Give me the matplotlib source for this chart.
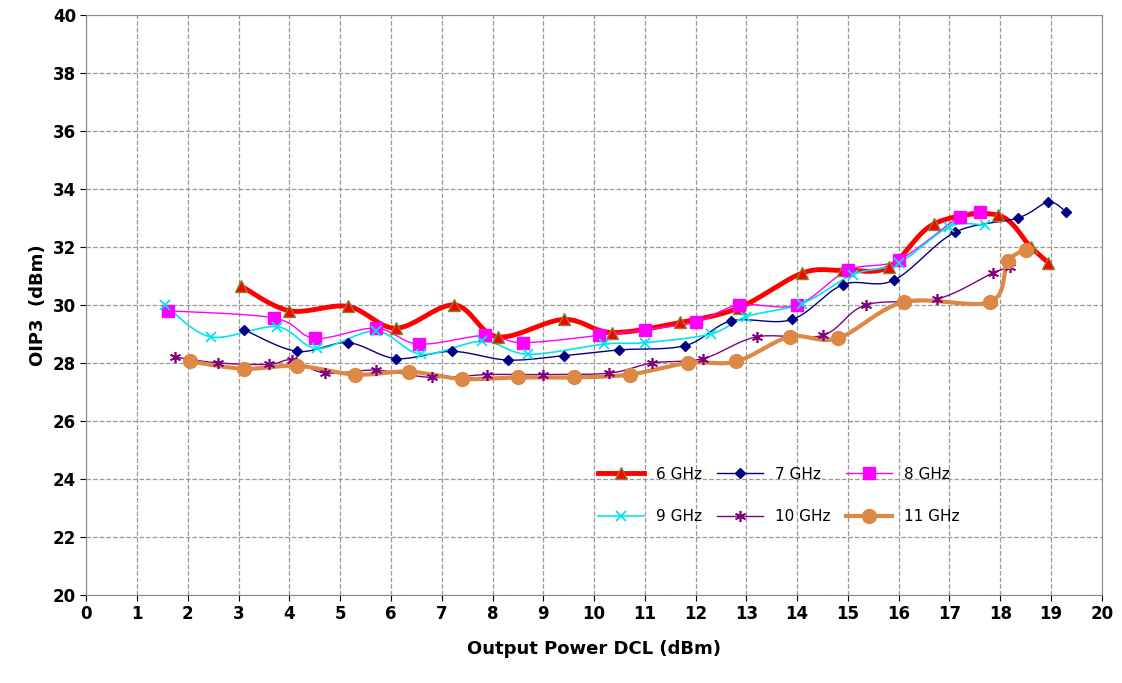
import numpy as np
import matplotlib.pyplot as plt

x6 = [3.05, 4.0, 5.15, 6.1, 7.25, 8.1, 9.4, 10.35, 11.7, 12.85, 14.1, 14.9, 15.8, 16.7, 17.95, 18.6, 18.95]
y6 = [30.65, 29.8, 29.95, 29.2, 30.0, 28.9, 29.5, 29.05, 29.4, 29.9, 31.1, 31.2, 31.3, 32.8, 33.1, 32.0, 31.45]
x7 = [3.1, 4.15, 5.15, 6.1, 7.2, 8.3, 9.4, 10.5, 11.8, 12.7, 13.9, 14.9, 15.9, 17.1, 18.35, 18.95, 19.3]
y7 = [29.15, 28.4, 28.7, 28.15, 28.4, 28.1, 28.25, 28.45, 28.6, 29.45, 29.5, 30.7, 30.85, 32.5, 33.0, 33.55, 33.2]
x8 = [1.6, 3.7, 4.5, 5.7, 6.55, 7.85, 8.6, 10.1, 11.0, 12.0, 12.85, 14.0, 15.0, 16.0, 17.2, 17.6]
y8 = [29.8, 29.55, 28.85, 29.2, 28.65, 28.95, 28.7, 28.95, 29.15, 29.4, 30.0, 30.0, 31.2, 31.55, 33.05, 33.2]
x9 = [1.55, 2.45, 3.75, 4.55, 5.7, 6.6, 7.8, 8.7, 10.2, 11.0, 12.3, 13.0, 14.1, 15.1, 16.0, 17.0, 17.7]
y9 = [30.0, 28.9, 29.25, 28.5, 29.1, 28.3, 28.75, 28.3, 28.65, 28.7, 29.0, 29.6, 30.05, 31.05, 31.45, 32.7, 32.75]
x10 = [1.75, 2.6, 3.6, 4.05, 4.7, 5.7, 6.8, 7.9, 9.0, 10.3, 11.15, 12.15, 13.2, 14.5, 15.35, 16.75, 17.85, 18.2]
y10 = [28.2, 28.0, 27.95, 28.1, 27.65, 27.75, 27.5, 27.6, 27.6, 27.65, 28.0, 28.15, 28.9, 28.95, 30.0, 30.2, 31.1, 31.3]
x11 = [2.05, 3.1, 4.15, 5.3, 6.35, 7.4, 8.5, 9.6, 10.7, 11.85, 12.8, 13.85, 14.8, 16.1, 17.8, 18.15, 18.5]
y11 = [28.05, 27.8, 27.9, 27.6, 27.7, 27.45, 27.5, 27.5, 27.6, 28.0, 28.05, 28.9, 28.85, 30.1, 30.1, 31.5, 31.9]


def smooth(x, y, n=20):
    # catmull-rom spline through the points
    p = np.column_stack([x, y])
    p = np.vstack([p[0], p, p[-1]])
    out = []
    t = np.linspace(0, 1, n, endpoint=False)[:, None]
    for i in range(1, len(p) - 2):
        p0, p1, p2, p3 = p[i - 1], p[i], p[i + 1], p[i + 2]
        seg = 0.5 * ((2 * p1) + (-p0 + p2) * t + (2 * p0 - 5 * p1 + 4 * p2 - p3) * t ** 2
                     + (-p0 + 3 * p1 - 3 * p2 + p3) * t ** 3)
        out.append(seg)
    out.append(p[-2][None, :])
    out = np.vstack(out)
    return out[:, 0], out[:, 1]


series = [
    (x6, y6, '6 GHz', 'red', 3.5, dict(marker='^', ms=9, mfc='red', mec='#7a8a30')),
    (x7, y7, '7 GHz', '#000080', 1.0, dict(marker='D', ms=5, mfc='#000080', mec='#000080')),
    (x8, y8, '8 GHz', '#ff00ff', 1.0, dict(marker='s', ms=8, mfc='#ff00ff', mec='#ff00ff')),
    (x9, y9, '9 GHz', '#00e5ee', 1.2, dict(marker='x', ms=7, mfc='#00e5ee', mec='#00e5ee', mew=1.3)),
    (x10, y10, '10 GHz', '#800080', 1.0, dict(marker=(6, 2, 0), ms=8, mec='#800080', mew=1.2)),
    (x11, y11, '11 GHz', '#dd8844', 3.0, dict(marker='o', ms=10, mfc='#dd8844', mec='#dd8844')),
]

fig, ax = plt.subplots(figsize=(11.22, 6.83), dpi=100)
fig.subplots_adjust(left=0.077, right=0.982, top=0.978, bottom=0.129)

handles = []
for x, y, lab, c, lw, mk in series:
    sx, sy = smooth(x, y)
    ax.plot(sx, sy, color=c, lw=lw, zorder=2)
    ax.plot(x, y, ls='none', zorder=3, **mk)
    h, = ax.plot([], [], color=c, lw=lw, label=lab, **mk)
    handles.append(h)

ax.set_xlim(0, 20)
ax.set_ylim(20, 40)
ax.set_xticks(range(0, 21))
ax.set_yticks(range(20, 41, 2))
ax.grid(True, color='#999999', ls='--', lw=0.9)
ax.tick_params(labelsize=12, length=4)
for t in ax.get_xticklabels() + ax.get_yticklabels():
    t.set_fontweight('bold')
ax.set_xlabel('Output Power DCL (dBm)', fontsize=13, fontweight='bold', labelpad=12)
ax.set_ylabel('OIP3  (dBm)', fontsize=13, fontweight='bold')
for s in ax.spines.values():
    s.set_color('#888888')

# row-major order like the original legend
order = [0, 3, 1, 4, 2, 5]
ax.legend([handles[i] for i in order], [handles[i].get_label() for i in order],
          loc='upper left', bbox_to_anchor=(0.49, 0.245), ncol=3, frameon=False,
          fontsize=11, handlelength=3, columnspacing=1.0, labelspacing=1.8)

fig.savefig('out.png')
